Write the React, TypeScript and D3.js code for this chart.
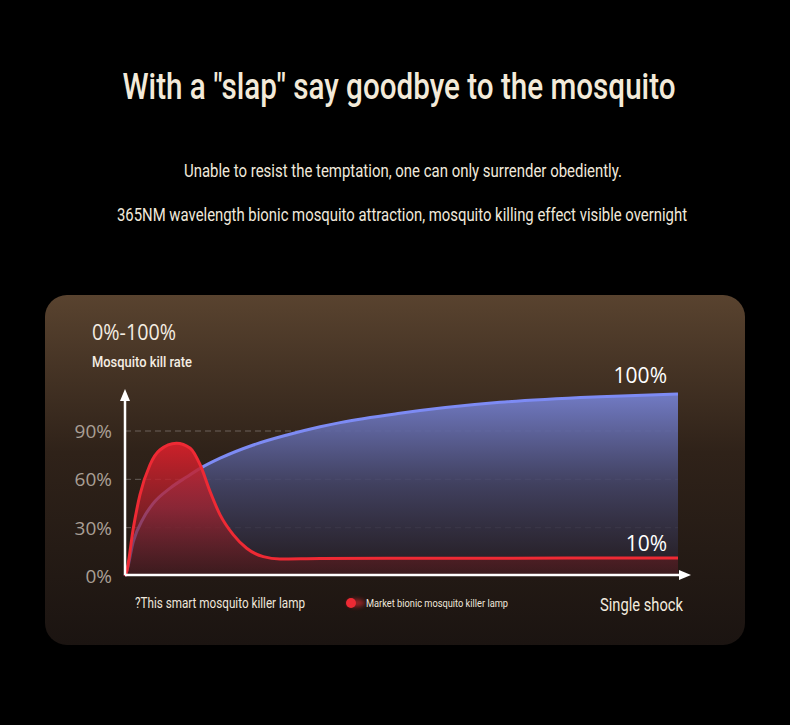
import React from "react";
import * as d3 from "d3";

const title = 'With a "slap" say goodbye to the mosquito';
const subtitle1 = "Unable to resist the temptation, one can only surrender obediently.";
const subtitle2 = "365NM wavelength bionic mosquito attraction, mosquito killing effect visible overnight";

const yTicks = [0, 30, 60, 90];
const yTickLabels = ["0%", "30%", "60%", "90%"];

const blueX = [0, 0.3, 1.5, 3.3, 5.1, 8.1, 11.2, 13.6, 17.2, 23.2, 29.3, 35.3, 38.9, 49.7, 67.8, 85.9, 100];
const blueY = [0, 2.7, 21.3, 35.8, 45.1, 54.4, 61.6, 66.8, 73.1, 81.3, 87.5, 92.6, 95.2, 101.0, 107.8, 111.3, 113];

const redX = [0, 0.3, 1.5, 2.7, 4.5, 6.3, 9.3, 11.8, 13.6, 15.4, 17.2, 19.6, 22.0, 25.0, 28.0, 35.3, 60, 80, 100];
const redY = [0, 2.7, 29.6, 50.3, 68.9, 78.2, 82.4, 79.3, 68.9, 52.3, 37.9, 25.5, 17.2, 12.0, 10.6, 10.9, 11.0, 11.1, 11.2];

const condensed = "Roboto, 'DejaVu Sans Condensed', sans-serif";
const round = "'Open Sans', 'Noto Sans', sans-serif";

export default function App() {
  const x = d3.scaleLinear().domain([0, 100]).range([125, 678]);
  const y = d3.scaleLinear().domain([0, 90]).range([576, 431]);

  const blue = blueX.map((v, i) => [v, blueY[i]] as [number, number]);
  const red = redX.map((v, i) => [v, redY[i]] as [number, number]);

  const line = d3.line<[number, number]>().x(d => x(d[0])).y(d => y(d[1])).curve(d3.curveMonotoneX);
  const area = d3.area<[number, number]>().x(d => x(d[0])).y0(y(0)).y1(d => y(d[1])).curve(d3.curveMonotoneX);

  const x0 = x(0);
  const yBase = 575;

  return (
    <svg width={790} height={725} style={{ position: "absolute", left: 0, top: 0, background: "#000" }}>
      <defs>
        <linearGradient id="card" x1="0" y1="0" x2="0" y2="1">
          <stop offset="0" stopColor="#59432f" />
          <stop offset="0.45" stopColor="#2f2219" />
          <stop offset="1" stopColor="#1b1411" />
        </linearGradient>
        <linearGradient id="blueFill" gradientUnits="userSpaceOnUse" x1="0" y1="392" x2="0" y2="576">
          <stop offset="0" stopColor="#7580cf" stopOpacity="0.95" />
          <stop offset="0.5" stopColor="#434467" stopOpacity="0.9" />
          <stop offset="1" stopColor="#231c22" stopOpacity="0.8" />
        </linearGradient>
        <linearGradient id="redFill" gradientUnits="userSpaceOnUse" x1="0" y1="440" x2="0" y2="576">
          <stop offset="0" stopColor="#d9202a" stopOpacity="0.95" />
          <stop offset="0.5" stopColor="#a8202c" stopOpacity="0.72" />
          <stop offset="1" stopColor="#4a1a1c" stopOpacity="0.6" />
        </linearGradient>
        <filter id="blur" x="-50%" y="-50%" width="200%" height="200%">
          <feGaussianBlur stdDeviation="2" />
        </filter>
      </defs>

      <rect x={0} y={0} width={790} height={725} fill="#000" />

      <text x={399} y={99} textAnchor="middle" fill="#f3ead9" fontFamily={condensed} fontSize={36} fontWeight={500}
        textLength={553} lengthAdjust="spacingAndGlyphs">{title}</text>
      <text x={403} y={177} textAnchor="middle" fill="#f0e9dc" fontFamily={condensed} fontSize={19}
        textLength={438} lengthAdjust="spacingAndGlyphs">{subtitle1}</text>
      <text x={402} y={221} textAnchor="middle" fill="#f0e9dc" fontFamily={condensed} fontSize={19}
        textLength={570} lengthAdjust="spacingAndGlyphs">{subtitle2}</text>

      <rect x={45} y={295} width={700} height={350} rx={22} fill="url(#card)" />

      <text x={92} y={340} fill="#f4ede3" fontFamily={round} fontSize={21}
        textLength={84} lengthAdjust="spacingAndGlyphs">0%-100%</text>
      <text x={92} y={367} fill="#f4ede3" fontFamily={condensed} fontSize={15} fontWeight={500}
        textLength={100} lengthAdjust="spacingAndGlyphs">Mosquito kill rate</text>

      {yTicks.filter(t => t > 0).map(t => (
        <line key={"g" + t} x1={x0} x2={678} y1={y(t)} y2={y(t)} stroke="#ffffff" strokeOpacity={0.28}
          strokeDasharray="6 4" strokeWidth={1} />
      ))}
      {yTicks.map((t, i) => (
        <text key={"t" + t} x={112} y={y(t) + 7} textAnchor="end" fill="#a99f95" fontFamily={round} fontSize={19}>
          {yTickLabels[i]}
        </text>
      ))}

      <path d={area(blue) || ""} fill="url(#blueFill)" />
      <path d={line(blue) || ""} fill="none" stroke="#7d8bf4" strokeWidth={3} />
      <path d={area(red) || ""} fill="url(#redFill)" />
      <path d={line(red) || ""} fill="none" stroke="#ee2a34" strokeWidth={3} />

      <line x1={x0} x2={x0} y1={yBase} y2={398} stroke="#fff" strokeWidth={2.5} />
      <path d={`M${x0 - 5},${401} L${x0},${389} L${x0 + 5},${401} Z`} fill="#fff" />
      <line x1={x0} x2={680} y1={yBase} y2={yBase} stroke="#fff" strokeWidth={2.5} />
      <path d={`M${679},${yBase - 5} L${691},${yBase} L${679},${yBase + 5} Z`} fill="#fff" />

      <text x={667} y={383} textAnchor="end" fill="#ffffff" fontFamily={round} fontSize={21}>100%</text>
      <text x={667} y={551} textAnchor="end" fill="#ffffff" fontFamily={round} fontSize={21}>10%</text>

      <text x={135} y={608} fill="#efe7dc" fontFamily={condensed} fontSize={14.5}
        textLength={170} lengthAdjust="spacingAndGlyphs">?This smart mosquito killer lamp</text>
      <ellipse cx={356} cy={603} rx={9} ry={4} fill="#e02a33" opacity={0.6} filter="url(#blur)" />
      <circle cx={351} cy={603} r={5} fill="#ee2a34" />
      <text x={366} y={607} fill="#efe7dc" fontFamily={condensed} fontSize={11.5}
        textLength={142} lengthAdjust="spacingAndGlyphs">Market bionic mosquito killer lamp</text>
      <text x={600} y={611} fill="#f3ecdf" fontFamily={condensed} fontSize={18}
        textLength={83} lengthAdjust="spacingAndGlyphs">Single shock</text>
    </svg>
  );
}
